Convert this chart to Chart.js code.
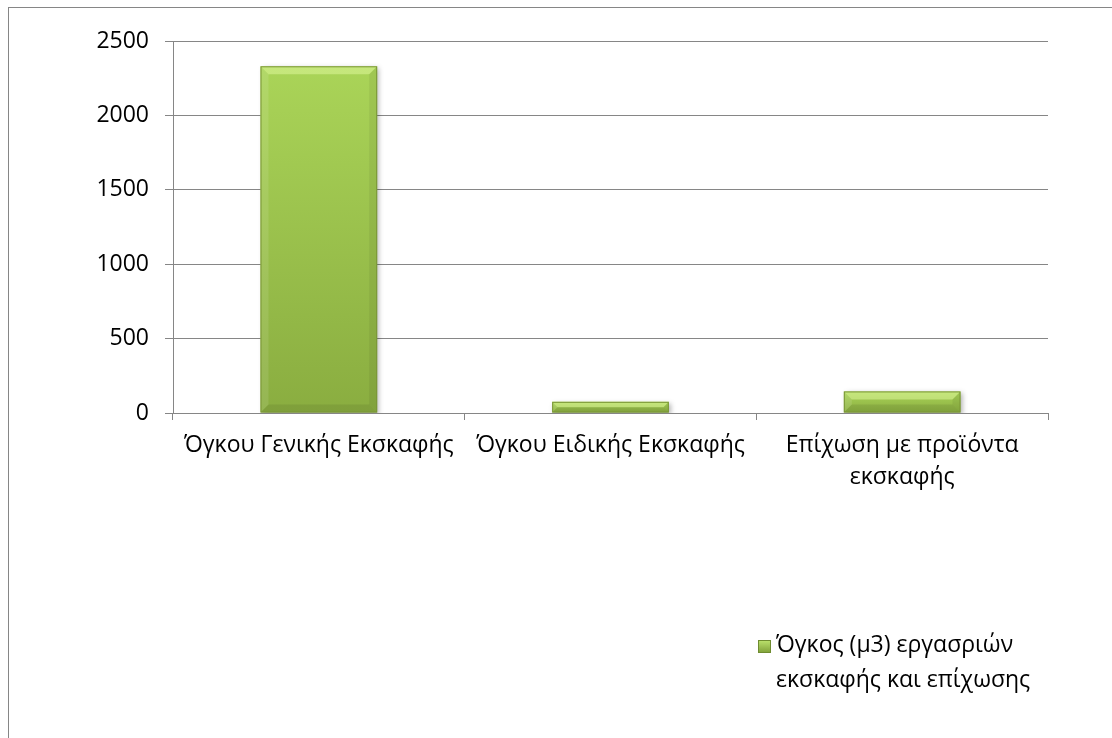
<!DOCTYPE html>
<html lang="el">
<head>
<meta charset="UTF-8">
<title>Όγκος εργασιών εκσκαφής και επίχωσης</title>
<script src="https://cdn.jsdelivr.net/npm/chart.js@4.4.1/dist/chart.umd.min.js"></script>
<style>
    body { margin: 0; overflow: hidden; background: #fff; }
    #frame { position: absolute; left: 8px; top: 7px; width: 1200px; height: 800px; border: 1px solid #868686; }
    #wrap { position: absolute; left: 0; top: 0; width: 1112px; height: 738px; }
</style>
</head>
<body>
<div id="frame"></div>
<div id="wrap"><canvas id="grafico"></canvas></div>

<script>
    const categorias = ['Όγκου Γενικής Εκσκαφής', 'Όγκου Ειδικής Εκσκαφής', ['Επίχωση με προϊόντα', 'εκσκαφής']];
    const volumes = [2330, 75, 145];
    const nomeSerie = ['Όγκος (μ3) εργασριών', 'εκσκαφής και επίχωσης'];
    const eixoY = { min: 0, max: 2500, passo: 500 };

    const fonte = { family: "'Open Sans', 'Noto Sans', sans-serif", size: 23, lineHeight: 1.4 };
    const cinza = '#868686';

    // gradiente de cada barra, do topo dela até a base
    function corBarra(c) {
        const y = c.chart.scales.y;
        if (!y || !c.parsed) return '#9cc44e';
        const topo = y.getPixelForValue(c.parsed.y);
        const base = y.getPixelForValue(0);
        if (!isFinite(topo) || !isFinite(base) || base - topo < 1) return '#9cc44e';
        const g = c.chart.ctx.createLinearGradient(0, topo, 0, base);
        g.addColorStop(0, '#aad458');
        g.addColorStop(1, '#8aad40');
        return g;
    }

    // chanfro e sombra das barras
    const chanfro = {
        id: 'chanfro',
        beforeDatasetsDraw(chart) {
            const ctx = chart.ctx;
            ctx.save();
            ctx.shadowColor = 'rgba(0,0,0,0.3)';
            ctx.shadowBlur = 5;
            ctx.shadowOffsetX = 2;
            ctx.shadowOffsetY = 2;
        },
        afterDatasetsDraw(chart) {
            const ctx = chart.ctx;
            ctx.restore();
            chart.getDatasetMeta(0).data.forEach(bar => {
                const l = bar.x - bar.width / 2, r = bar.x + bar.width / 2;
                const t = bar.y, b = bar.base;
                const k = Math.min(8, (b - t) / 2);
                const face = (pts, cor) => {
                    ctx.beginPath();
                    ctx.moveTo(pts[0][0], pts[0][1]);
                    pts.slice(1).forEach(p => ctx.lineTo(p[0], p[1]));
                    ctx.closePath();
                    ctx.fillStyle = cor;
                    ctx.fill();
                };
                face([[l, t], [r, t], [r - k, t + k], [l + k, t + k]], 'rgba(225,250,160,0.5)');
                face([[l, t], [l + k, t + k], [l + k, b - k], [l, b]], 'rgba(255,255,255,0.1)');
                face([[r, t], [r - k, t + k], [r - k, b - k], [r, b]], 'rgba(0,0,0,0.06)');
                face([[l, b], [l + k, b - k], [r - k, b - k], [r, b]], 'rgba(0,0,0,0.08)');
                ctx.strokeStyle = '#7a9636';
                ctx.lineWidth = 1;
                ctx.strokeRect(l + 0.5, t + 0.5, r - l - 1, b - t - 1);
            });
        }
    };

    // legenda em duas linhas
    const legenda = {
        id: 'legenda',
        afterDraw(chart) {
            const ctx = chart.ctx;
            const x = 758, y = 640, lado = 13;
            ctx.save();
            const g = ctx.createLinearGradient(0, y, 0, y + lado);
            g.addColorStop(0, '#bde46e');
            g.addColorStop(1, '#7f9f38');
            ctx.fillStyle = g;
            ctx.fillRect(x, y, lado, lado);
            ctx.strokeStyle = '#6f8c30';
            ctx.strokeRect(x + 0.5, y + 0.5, lado - 1, lado - 1);
            ctx.fillStyle = '#000';
            ctx.font = fonte.size + 'px ' + fonte.family;
            ctx.textBaseline = 'middle';
            nomeSerie.forEach((linha, i) => ctx.fillText(linha, 776, 645 + i * 35));
            ctx.restore();
        }
    };

    new Chart(document.getElementById('grafico'), {
        type: 'bar',
        data: {
            labels: categorias,
            datasets: [{
                label: nomeSerie.join(' '),
                data: volumes,
                backgroundColor: corBarra,
                borderWidth: 0,
                barPercentage: 0.4,
                categoryPercentage: 1
            }]
        },
        options: {
            responsive: true,
            maintainAspectRatio: false,
            animation: false,
            layout: { padding: { top: 41, right: 64, left: 0, bottom: 0 } },
            plugins: { legend: { display: false }, tooltip: { enabled: false } },
            scales: {
                x: {
                    grid: { offset: true, drawOnChartArea: false, color: cinza, tickLength: 7 },
                    border: { color: cinza },
                    ticks: { color: '#000', font: fonte, maxRotation: 0, autoSkip: false, padding: 9 },
                    afterFit(s) { s.height = 738 - 413; }
                },
                y: {
                    min: eixoY.min,
                    max: eixoY.max,
                    ticks: { stepSize: eixoY.passo, color: '#000', font: fonte, padding: 16, callback: v => v },
                    grid: { color: cinza, tickLength: 8 },
                    border: { color: cinza },
                    afterFit(s) { s.width = 173; }
                }
            }
        },
        plugins: [chanfro, legenda]
    });
</script>
</body>
</html>
